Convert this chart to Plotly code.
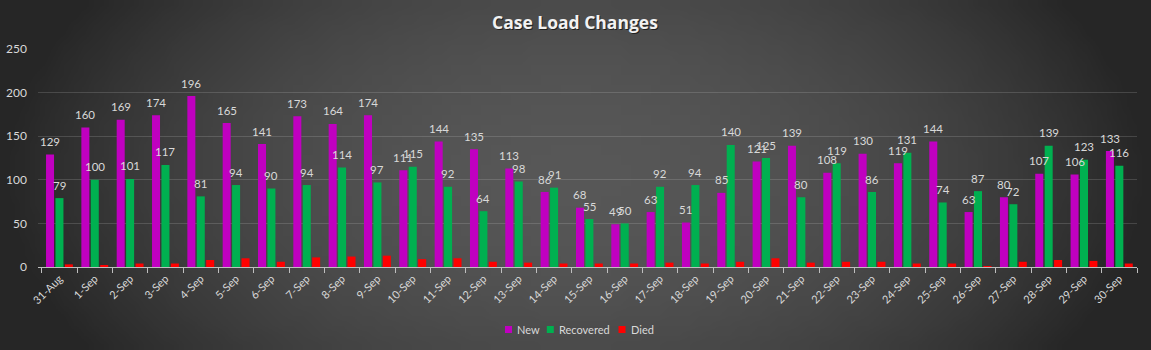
import base64, struct, zlib
import plotly.graph_objects as go

dates = ["31-Aug"] + [f"{d}-Sep" for d in range(1, 31)]
new_cases = [129, 160, 169, 174, 196, 165, 141, 173, 164, 174, 111, 144, 135, 113, 86, 68,
             49, 63, 51, 85, 121, 139, 108, 130, 119, 144, 63, 80, 107, 106, 133]
recovered = [79, 100, 101, 117, 81, 94, 90, 94, 114, 97, 115, 92, 64, 98, 91, 55,
             50, 92, 94, 140, 125, 80, 119, 86, 131, 74, 87, 72, 139, 123, 116]
died = [3, 2, 4, 4, 8, 10, 6, 11, 12, 13, 9, 10, 6, 5, 4, 4,
        4, 5, 4, 6, 10, 5, 6, 6, 4, 4, 1, 6, 8, 7, 4]
y_ticks = [0, 50, 100, 150, 200, 250]
series_names = ["New", "Recovered", "Died"]
series_colors = ["#c000c0", "#00b050", "#ff0000"]

W, H = 1151, 350
ML, MR, MT, MB = 38, 14, 49, 83
PW, PH = W - ML - MR, H - MT - MB
BARGAP, GROUPGAP = 0.2, 0.15


def px_x(px):
    return (px - ML) / PW


def px_y(py):
    return (H - MB - py) / PH


def gradient_png(w, h):
    rows = []
    for j in range(h):
        row = bytearray([0])
        for i in range(w):
            dx = (i / (w - 1) - 0.5) * 2
            dy = (j / (h - 1) - 0.5) * 2
            t = min(1.0, dx * dx * 1.0 + dy * dy * 0.25)
            v = int(round(0x57 - (0x57 - 0x26) * t))
            row += bytes([v, v, v])
        rows.append(bytes(row))
    raw = b"".join(rows)

    def chunk(tag, data):
        c = tag + data
        return struct.pack(">I", len(data)) + c + struct.pack(">I", zlib.crc32(c) & 0xffffffff)

    png = b"\x89PNG\r\n\x1a\n"
    png += chunk(b"IHDR", struct.pack(">IIBBBBB", w, h, 8, 2, 0, 0, 0))
    png += chunk(b"IDAT", zlib.compress(raw, 9))
    png += chunk(b"IEND", b"")
    return "data:image/png;base64," + base64.b64encode(png).decode()


FONT = "Lato, Calibri, sans-serif"
label_font = dict(family=FONT, size=11.5, color="#d9d9d9")

fig = go.Figure()
for name, vals, col in zip(series_names, [new_cases, recovered, died], series_colors):
    fig.add_trace(go.Bar(name=name, x=dates, y=vals, marker_color=col,
                         marker_line_width=0, showlegend=False))

annotations = []
# data labels above New and Recovered bars
slot_px = PW / len(dates) * (1 - BARGAP) / 3
for k, vals in enumerate([new_cases, recovered]):
    for d, v in zip(dates, vals):
        annotations.append(dict(x=d, y=v, xref="x", yref="y", text=str(v), showarrow=False,
                                xanchor="center", yanchor="middle",
                                xshift=(k - 1) * slot_px, yshift=13, font=label_font))

# custom compact legend
legend_marks = [(508.5, 515), (550.3, 557), (622, 629)]
shapes = []
for (mx, tx), name, col in zip(legend_marks, series_names, series_colors):
    shapes.append(dict(type="rect", xref="paper", yref="paper",
                       x0=px_x(mx - 3.5), x1=px_x(mx + 3.5),
                       y0=px_y(333), y1=px_y(326),
                       fillcolor=col, line_width=0))
    annotations.append(dict(text=name, xref="paper", yref="paper",
                            x=px_x(tx), y=px_y(329.5), xanchor="left", yanchor="middle",
                            showarrow=False,
                            font=dict(family=FONT, size=11, color="#d9d9d9")))

TITLE_FONT = "Open Sans, Lato, sans-serif"
annotations.append(dict(text="<b>Case Load Changes</b>", xref="paper", yref="paper",
                        x=px_x(576), y=px_y(23.5), showarrow=False,
                        font=dict(family=TITLE_FONT, size=17.5, color="rgba(0,0,0,0.6)"),
                        xanchor="center", yanchor="middle"))
annotations.append(dict(text="<b>Case Load Changes</b>", xref="paper", yref="paper",
                        x=px_x(574.5), y=px_y(22), showarrow=False,
                        font=dict(family=TITLE_FONT, size=17.5, color="#f2f2f2"),
                        xanchor="center", yanchor="middle"))

fig.update_layout(
    width=W, height=H,
    margin=dict(l=ML, r=MR, t=MT, b=MB, pad=0, autoexpand=False),
    paper_bgcolor="#3c3c3c",
    plot_bgcolor="rgba(0,0,0,0)",
    barmode="group", bargap=BARGAP, bargroupgap=GROUPGAP,
    font=dict(family=FONT, size=11, color="#d9d9d9"),
    showlegend=False,
    images=[dict(source=gradient_png(116, 35), xref="paper", yref="paper",
                 x=-ML / PW, y=1 + MT / PH, sizex=W / PW, sizey=H / PH,
                 sizing="stretch", layer="below", xanchor="left", yanchor="top")],
    shapes=shapes,
    annotations=annotations,
)

fig.update_xaxes(type="category", tickangle=-45, showline=True, linecolor="#bfbfbf",
                 linewidth=1, ticks="outside", tickson="boundaries", ticklen=5,
                 tickcolor="#bfbfbf", showgrid=False, automargin=False,
                 tickfont=dict(family=FONT, size=11, color="#d9d9d9"))
fig.update_yaxes(range=[0, 250], tickvals=y_ticks, showgrid=True,
                 gridcolor="rgba(217,217,217,0.18)", gridwidth=1, zeroline=False,
                 showline=False, ticks="", ticklabelstandoff=10, automargin=False,
                 tickfont=dict(family=FONT, size=12, color="#d9d9d9"))

fig.write_html("out.html")
